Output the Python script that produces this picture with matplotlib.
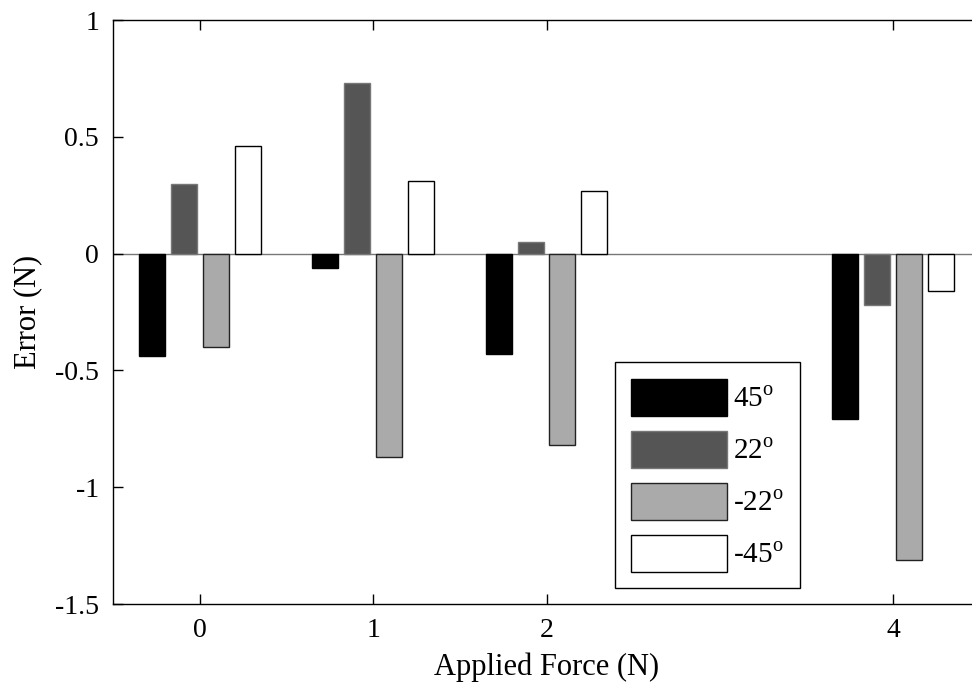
import matplotlib
matplotlib.use('Agg')
import matplotlib.pyplot as plt
import numpy as np

# Applied force levels and error per orientation
forces = [0, 1, 2, 4]
labels = ['45$^{\\rm o}$', '22$^{\\rm o}$', '-22$^{\\rm o}$', '-45$^{\\rm o}$']
err_45 = [-0.44, -0.06, -0.43, -0.71]
err_22 = [0.30, 0.73, 0.05, -0.22]
err_m22 = [-0.40, -0.87, -0.82, -1.31]
err_m45 = [0.46, 0.31, 0.27, -0.16]

colors = ['#000000', '#555555', '#aaaaaa', '#ffffff']
edges = ['#000000', '#777777', '#222222', '#000000']

plt.rcParams['font.family'] = ['Liberation Serif', 'DejaVu Serif']
plt.rcParams['mathtext.fontset'] = 'custom'
plt.rcParams['mathtext.rm'] = 'Liberation Serif'

fig = plt.figure(figsize=(9.72, 6.87), dpi=100)
ax = fig.add_axes([113 / 972, 1 - 604 / 687, 867 / 972, 584 / 687])

x = np.array(forces, dtype=float)
step = 0.184
width = 0.15
series = [err_45, err_22, err_m22, err_m45]
for i, vals in enumerate(series):
    ax.bar(x + (i - 1.5) * step, vals, width, color=colors[i], edgecolor=edges[i],
           linewidth=1.0, label=labels[i], zorder=2)

ax.axhline(0, color='#777777', linewidth=1.0, zorder=1)

ax.set_xlim(-0.5, 4.5)
ax.set_ylim(-1.5, 1.0)
ax.set_xticks(forces)
ax.set_yticks([-1.5, -1, -0.5, 0, 0.5, 1])
ax.set_yticklabels(['-1.5', '-1', '-0.5', '0', '0.5', '1'])
ax.tick_params(direction='in', top=True, right=False, labelsize=20, length=7, width=1, pad=10)
for s in ax.spines.values():
    s.set_linewidth(1.0)

ax.set_xlabel('Applied Force (N)', fontsize=22, labelpad=7)
ax.set_ylabel('Error (N)', fontsize=22, labelpad=9)

leg = ax.legend(loc='lower left', bbox_to_anchor=(0.579, 0.027), borderaxespad=0,
                fontsize=21, handlelength=3.3, handleheight=1.6, handletextpad=0.2,
                labelspacing=0.5, borderpad=0.55, fancybox=False, framealpha=1,
                edgecolor='black')
leg.get_frame().set_linewidth(1.0)

fig.savefig('out.png', dpi=100)
